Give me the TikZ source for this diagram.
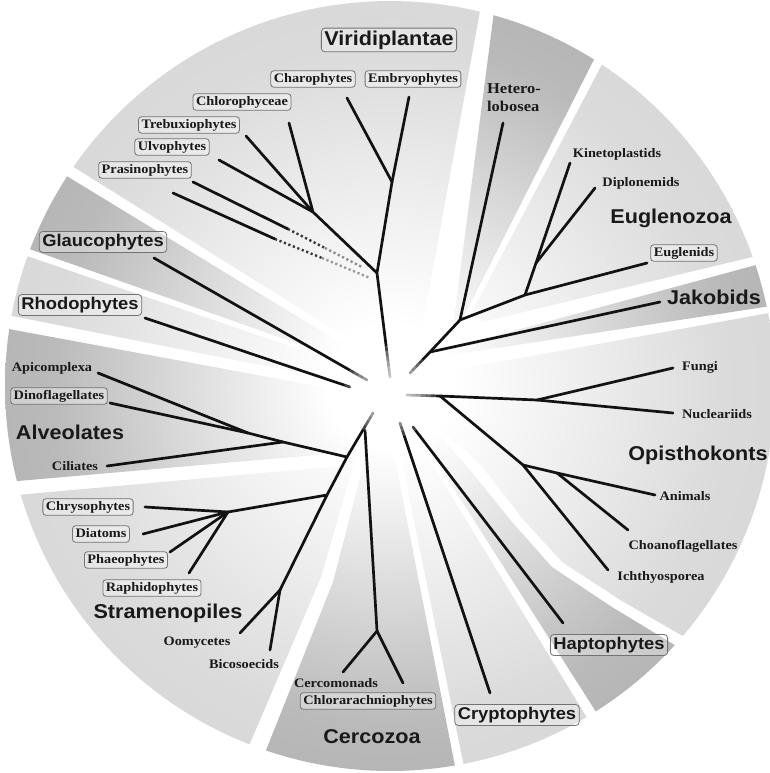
\documentclass[tikz,border=0pt]{standalone}
\usepackage{fontspec}
\setmainfont{Liberation Serif}
\newfontfamily\labfont[FakeStretch=1.1]{Liberation Serif}
\newfontfamily\grpfont[FakeStretch=1.08]{Liberation Sans}
\definecolor{lightsec}{gray}{0.79}
\definecolor{darksec}{gray}{0.59}
\colorlet{lightmid}{lightsec!68!white}
\colorlet{darkmid}{darksec!66!white}
\definecolor{boxline}{gray}{0.45}
\definecolor{txt}{gray}{0.1}
\definecolor{branchc}{gray}{0.07}
\pgfdeclareradialshading{lightshade}{\pgfpoint{0bp}{0bp}}{color(0bp)=(white); color(2bp)=(white); color(11bp)=(lightmid); color(25bp)=(lightsec); color(50bp)=(lightsec)}
\pgfdeclareradialshading{darkshade}{\pgfpoint{0bp}{0bp}}{color(0bp)=(white); color(2bp)=(white); color(11bp)=(darkmid); color(25bp)=(darksec); color(50bp)=(darksec)}
\newcommand\sectorfill[2]{\begin{scope}\clip #2;\shade[shading=#1] (ctr) circle (770pt);\end{scope}}
\begin{document}
\begin{tikzpicture}[x=1pt,y=-1pt,
 branch/.style={draw=branchc, line width=2.7pt, line cap=round, line join=round},
 dots/.style={line width=2.4pt, line cap=butt, dash pattern=on 2.2pt off 2.6pt},
 lab/.style={font=\labfont\bfseries\fontsize{13}{15}\selectfont, text=txt, inner sep=0pt, text height=9pt, text depth=2.5pt},
 labbox/.style={lab, draw=boxline, line width=0.8pt, rounded corners=3pt, fill=white, fill opacity=0.35, text opacity=1, inner xsep=3pt, inner ysep=2.5pt},
 grp/.style={font=\grpfont\bfseries\fontsize{20}{22}\selectfont, text=txt, inner sep=0pt},
 grpbox/.style={font=\grpfont\bfseries\fontsize{17}{19}\selectfont, text=txt, draw=boxline, line width=0.8pt, rounded corners=3.5pt, fill=white, fill opacity=0.3, text opacity=1, inner xsep=3pt, inner ysep=2.5pt, text height=12.5pt, text depth=3.5pt},
 grpboxbig/.style={grpbox, font=\grpfont\bfseries\fontsize{20}{22}\selectfont, text height=14.5pt, text depth=4.2pt}]
\useasboundingbox (0,0) rectangle (770,773);
\fill[white] (0,0) rectangle (770,773);
\coordinate (ctr) at (390,386);

% ---------- sectors ----------
\sectorfill{lightshade}{(376,356) -- plot[domain=214.7:283.5,samples=40] ({390+385*cos(\x)},{386+385*sin(\x)}) -- (420,340) -- cycle}
\sectorfill{darkshade}{(452,335) -- plot[domain=285.6:302,samples=20] ({390+385*cos(\x)},{386+385*sin(\x)}) -- (462,320) -- cycle}
\sectorfill{lightshade}{(470,316) -- plot[domain=303.4:340.4,samples=30] ({390+385*cos(\x)},{386+385*sin(\x)}) -- (482,322) -- cycle}
\sectorfill{darkshade}{(428,354) -- plot[domain=341.7:348.1,samples=10] ({390+385*cos(\x)},{386+385*sin(\x)}) -- (432,358) -- cycle}
\sectorfill{lightshade}{(410,378) -- plot[domain=349.1:400.5,samples=40] ({390+385*cos(\x)},{386+385*sin(\x)}) -- (622,601) -- (562,562) -- (522,518) -- (480,464) -- (408,398) -- cycle}
\sectorfill{darkshade}{(415,408) -- (470,470) -- (512,522) -- (552,567) -- (612,607) -- plot[domain=42.3:57.7,samples=20] ({390+385*cos(\x)},{386+385*sin(\x)}) -- (405,412) -- cycle}
\sectorfill{lightshade}{(400,412) -- plot[domain=59.3:79,samples=20] ({390+385*cos(\x)},{386+385*sin(\x)}) -- (392,413) -- cycle}
\sectorfill{darkshade}{(386,413) -- plot[domain=80.3:108.8,samples=30] ({390+385*cos(\x)},{386+385*sin(\x)}) -- (333,582) -- (362,470) -- (372,420) -- cycle}
\sectorfill{lightshade}{(366,418) -- (352,470) -- (321,577) -- plot[domain=111.4:163.6,samples=40] ({390+385*cos(\x)},{386+385*sin(\x)}) -- (340,466) -- cycle}
\sectorfill{darkshade}{(350,452) -- plot[domain=165.7:188.5,samples=30] ({390+385*cos(\x)},{386+385*sin(\x)}) -- (360,394) -- cycle}
\sectorfill{lightshade}{(362,385) -- plot[domain=190.5:199.7,samples=15] ({390+385*cos(\x)},{386+385*sin(\x)}) -- (365,372) -- cycle}
\sectorfill{darkshade}{(367,368) -- plot[domain=200.8:213,samples=15] ({390+385*cos(\x)},{386+385*sin(\x)}) -- (372,362) -- cycle}

% ---------- tree nodes ----------
\coordinate (cV) at (390,377);
\coordinate (v1) at (377,273);
\coordinate (v2) at (392,182);
\coordinate (eChar) at (347,98);
\coordinate (eEmb) at (409,97);
\coordinate (v3) at (313,212);
\coordinate (eChl) at (289,123);
\coordinate (eTre) at (246,136);
\coordinate (eUlv) at (219,160);
\coordinate (p1a) at (193,182);
\coordinate (p1b) at (288,229);
\coordinate (p1m) at (325,248);
\coordinate (p1c) at (362,267);
\coordinate (p2a) at (173,193);
\coordinate (p2b) at (275,239);
\coordinate (p2m) at (322,258);
\coordinate (p2c) at (370,278);

\coordinate (cH) at (410,373);
\coordinate (h1) at (430,352);
\coordinate (h0) at (460,320);
\coordinate (e0) at (525,295);
\coordinate (e1) at (536,263);
\coordinate (eEug) at (647,263);
\coordinate (eKin) at (570,163);
\coordinate (eDip) at (595,188);
\coordinate (eHet) at (503,123);
\coordinate (eJak) at (660,302);

\coordinate (cO) at (407,395);
\coordinate (o0) at (440,396);
\coordinate (o1) at (537,400);
\coordinate (eFun) at (673,368);
\coordinate (eNuc) at (673,413);
\coordinate (o2) at (523,465);
\coordinate (o3) at (557,473);
\coordinate (eIch) at (608,570);
\coordinate (eAni) at (655,495);
\coordinate (eCho) at (628,530);

\coordinate (cHp) at (413,427);
\coordinate (eHap) at (563,623);
\coordinate (cCr) at (400,423);
\coordinate (eCry) at (490,693);
\coordinate (cCz) at (365,430);
\coordinate (c0) at (377,631);
\coordinate (eCerc) at (343,672);
\coordinate (eChlr) at (403,683);

\coordinate (cS) at (373,413);
\coordinate (sa) at (347,457);
\coordinate (s0) at (327,495);
\coordinate (s1) at (228,512);
\coordinate (s2) at (280,590);
\coordinate (eOom) at (240,633);
\coordinate (eBic) at (270,650);
\coordinate (eChry) at (145,507);
\coordinate (eDia) at (143,534);
\coordinate (ePha) at (170,552);
\coordinate (eRap) at (189,573);
\coordinate (a1) at (283,442);
\coordinate (a2) at (248,433);
\coordinate (eApi) at (98,373);
\coordinate (eDin) at (110,403);
\coordinate (eCil) at (107,466);

\coordinate (cG) at (367,380);
\coordinate (eGla) at (154,258);
\coordinate (cR) at (350,387);
\coordinate (eRho) at (145,318);

% ---------- branches ----------
\draw[branch] (cV) -- (v1) -- (v2) -- (eChar);
\draw[branch] (v2) -- (eEmb);
\draw[branch] (v1) -- (v3) -- (eChl);
\draw[branch] (v3) -- (eTre);
\draw[branch] (v3) -- (eUlv);
\draw[branch] (p1a) -- (p1b);
\draw[branch] (p2a) -- (p2b);
\draw[dots, draw=black!78] (p1b) -- (p1m);
\draw[dots, draw=black!45] (p1m) -- (p1c);
\draw[dots, draw=black!78] (p2b) -- (p2m);
\draw[dots, draw=black!40] (p2m) -- (p2c);

\draw[branch] (cH) -- (h1) -- (h0) -- (e0) -- (eEug);
\draw[branch] (e0) -- (e1) -- (eKin);
\draw[branch] (e1) -- (eDip);
\draw[branch] (h0) -- (eHet);
\draw[branch] (h1) -- (eJak);

\draw[branch] (cO) -- (o0) -- (o1) -- (eFun);
\draw[branch] (o1) -- (eNuc);
\draw[branch] (o0) -- (o2) -- (eIch);
\draw[branch] (o2) -- (o3) -- (eAni);
\draw[branch] (o3) -- (eCho);

\draw[branch] (cHp) -- (eHap);
\draw[branch] (cCr) -- (eCry);
\draw[branch] (cCz) -- (c0) -- (eCerc);
\draw[branch] (c0) -- (eChlr);

\draw[branch] (cS) -- (sa) -- (s0) -- (s2) -- (eOom);
\draw[branch] (s2) -- (eBic);
\draw[branch] (s0) -- (s1) -- (eChry);
\draw[branch] (s1) -- (eDia);
\draw[branch] (s1) -- (ePha);
\draw[branch] (s1) -- (eRap);
\draw[branch] (sa) -- (a1) -- (a2) -- (eApi);
\draw[branch] (a2) -- (eDin);
\draw[branch] (a1) -- (eCil);

\draw[branch] (cG) -- (eGla);
\draw[branch] (cR) -- (eRho);

% ---------- white centre ----------
\foreach \rr in {46,41,...,6} {\fill[white, opacity=0.2] (390,392) circle (\rr pt);}
\fill[white] (390,392) circle (9pt);

% ---------- labels ----------
\node[grpboxbig] (lVir) at (389,40) {Viridiplantae};
\node[labbox] (lChar) at (313,79) {Charophytes};
\node[labbox] (lEmb) at (413,79) {Embryophytes};
\node[labbox] (lChl) at (242,102) {Chlorophyceae};
\node[labbox] (lTre) at (189,125) {Trebuxiophytes};
\node[labbox] (lUlv) at (172,147) {Ulvophytes};
\node[labbox] (lPra) at (145,170) {Prasinophytes};
\node[grpbox] (lGla) at (103,242) {Glaucophytes};
\node[grpbox] (lRho) at (80,305) {Rhodophytes};
\node[lab] (lApi) at (52,368) {Apicomplexa};
\node[labbox] (lDin) at (59,396) {Dinoflagellates};
\node[grp] (lAlv) at (70,432) {Alveolates};
\node[lab] (lCil) at (75,467) {Ciliates};
\node[labbox] (lChry) at (88,507) {Chrysophytes};
\node[labbox] (lDia) at (101,534) {Diatoms};
\node[labbox] (lPha) at (126,560) {Phaeophytes};
\node[labbox] (lRap) at (152,588) {Raphidophytes};
\node[grp] (lStr) at (168,613) {Stramenopiles};
\node[lab] (lOom) at (197,642) {Oomycetes};
\node[lab] (lBic) at (244,665) {Bicosoecids};
\node[lab] (lCerc) at (336,684) {Cercomonads};
\node[labbox] (lChlr) at (368,701) {Chlorarachniophytes};
\node[grp] (lCerz) at (372,737) {Cercozoa};
\node[grpbox] (lCry) at (517,715) {Cryptophytes};
\node[grpbox] (lHap) at (609,645) {Haptophytes};
\node[lab] (lIch) at (661,577) {Ichthyosporea};
\node[lab] (lCho) at (683,546) {Choanoflagellates};
\node[lab] (lAni) at (685,497) {Animals};
\node[grp] (lOpi) at (698,455) {Opisthokonts};
\node[lab] (lNuc) at (717,415) {Nucleariids};
\node[lab] (lFun) at (700,367) {Fungi};
\node[grp] (lJak) at (714,297) {Jakobids};
\node[labbox] (lEug) at (684,253) {Euglenids};
\node[grp] (lEuz) at (671,218) {Euglenozoa};
\node[lab] (lDip) at (641,183) {Diplonemids};
\node[lab] (lKin) at (617,154) {Kinetoplastids};
\node[lab, font=\labfont\bfseries\fontsize{15}{18}\selectfont, align=left, text height=, text depth=] (lHet) at (514,98) {Hetero-\\lobosea};
\end{tikzpicture}
\end{document}
